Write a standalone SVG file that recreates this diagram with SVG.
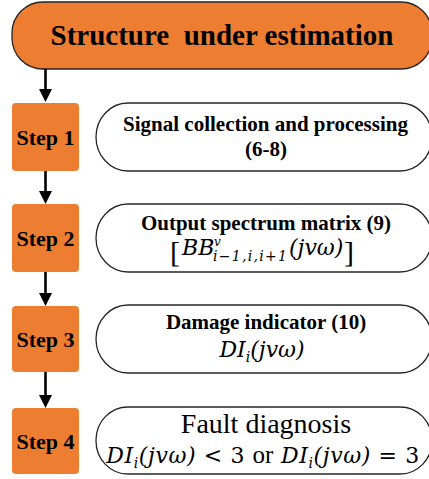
<svg xmlns="http://www.w3.org/2000/svg" width="429" height="479" viewBox="0 0 429 479">
<style>
.orange{fill:#ED7D31;}
.outline{stroke:#262626;stroke-width:1.3;}
.white{fill:#FFFFFF;}
.conn{stroke:#000;stroke-width:2.6;fill:none;}
.bold{font-family:"Liberation Serif","Times New Roman",serif;font-weight:bold;fill:#000;}
.reg{font-family:"Liberation Serif","Times New Roman",serif;font-style:normal;fill:#000;}
.math{font-family:"DejaVu Serif","Liberation Serif",serif;font-style:italic;fill:#000;}
.mathr{font-family:"DejaVu Serif","Liberation Serif",serif;font-style:normal;fill:#000;}
.step{font-size:22px;text-anchor:middle;}
.desc{font-size:21px;text-anchor:middle;}
</style>
<defs>
<marker id="arrow" markerUnits="userSpaceOnUse" markerWidth="13" markerHeight="13" refX="2" refY="6.5" orient="auto">
<path d="M0,0 L13,6.5 L0,13 z" fill="#000"/>
</marker>
</defs>

<g id="top">
<rect class="orange outline" x="12" y="2" width="420" height="67" rx="31" ry="31"/>
<text class="bold" x="222" y="45" font-size="29" text-anchor="middle" xml:space="preserve">Structure  under estimation</text>
</g>

<g id="connectors">
<line class="conn" x1="45.5" y1="69" x2="45.5" y2="91" marker-end="url(#arrow)"/>
<line class="conn" x1="45.5" y1="171" x2="45.5" y2="193" marker-end="url(#arrow)"/>
<line class="conn" x1="45.5" y1="272" x2="45.5" y2="295" marker-end="url(#arrow)"/>
<line class="conn" x1="45.5" y1="372" x2="45.5" y2="397" marker-end="url(#arrow)"/>
</g>

<g id="step1">
<rect class="orange" x="12" y="103" width="67" height="68" rx="4"/>
<text class="bold step" x="45.5" y="144.5">Step 1</text>
</g>
<g id="desc1">
<rect class="white outline" x="96" y="103" width="336" height="68" rx="32" ry="34"/>
<text class="bold desc" x="265.5" y="131">Signal collection and processing</text>
<text class="bold desc" x="266" y="156">(6-8)</text>
</g>

<g id="step2">
<rect class="orange" x="12" y="204" width="67" height="68" rx="4"/>
<text class="bold step" x="45.5" y="245.5">Step 2</text>
</g>
<g id="desc2">
<rect class="white outline" x="96" y="204" width="336" height="68" rx="32" ry="34"/>
<text class="bold desc" x="266" y="230">Output spectrum matrix (9)</text>
<text class="reg" x="170" y="262" font-size="30">[</text>
<text class="math" x="182" y="255" font-size="22">BB</text>
<text class="math" x="214" y="245.5" font-size="12">v</text>
<text class="math" x="213" y="261" font-size="14" letter-spacing="1.3">i−1,i,i+1</text>
<text class="math" x="289" y="255" font-size="22">(jvω)</text>
<text class="reg" x="344" y="262" font-size="30">]</text>
</g>

<g id="step3">
<rect class="orange" x="12" y="306" width="67" height="66" rx="4"/>
<text class="bold step" x="45.5" y="346.5">Step 3</text>
</g>
<g id="desc3">
<rect class="white outline" x="96" y="305" width="336" height="68" rx="32" ry="34"/>
<text class="bold desc" x="266" y="329">Damage indicator (10)</text>
<text class="math" x="262" y="357" font-size="22" text-anchor="middle">DI<tspan font-size="14" dy="5">i</tspan><tspan dy="-5">(jvω)</tspan></text>
</g>

<g id="step4">
<rect class="orange" x="12" y="408" width="67" height="66" rx="4"/>
<text class="bold step" x="45.5" y="448.5">Step 4</text>
</g>
<g id="desc4">
<rect class="white outline" x="96" y="407" width="336" height="67" rx="32" ry="33"/>
<text class="reg" x="266" y="433" font-size="28" text-anchor="middle">Fault diagnosis</text>
<text class="math" x="263" y="463" font-size="22" text-anchor="middle" letter-spacing="0.6" xml:space="preserve">DI<tspan font-size="14" dy="5">i</tspan><tspan dy="-5">(jvω)</tspan><tspan class="mathr"> &lt; 3 </tspan><tspan class="reg" font-size="25" letter-spacing="0">or</tspan><tspan> DI</tspan><tspan font-size="14" dy="5">i</tspan><tspan dy="-5">(jvω)</tspan><tspan class="mathr"> = 3</tspan></text>
</g>
</svg>
